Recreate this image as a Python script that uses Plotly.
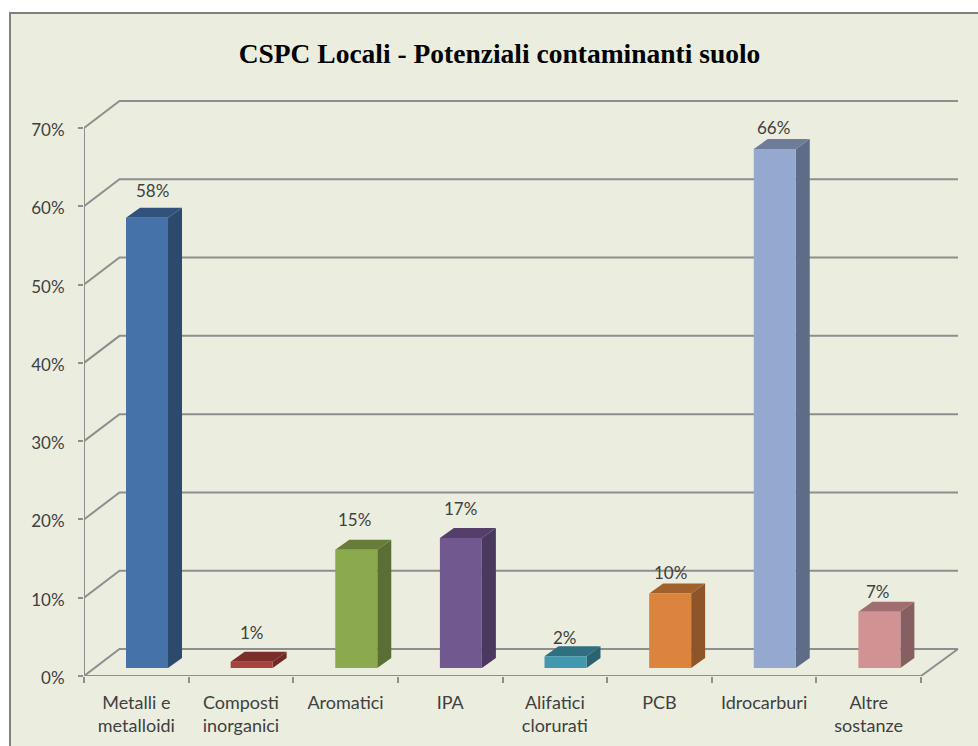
import plotly.graph_objects as go

# ---- data ----
categories = ["Metalli e<br>metalloidi", "Composti<br>inorganici", "Aromatici", "IPA",
              "Alifatici<br>clorurati", "PCB", "Idrocarburi", "Altre<br>sostanze"]
values = [57.5, 0.8, 15.1, 16.6, 1.5, 9.5, 66.3, 7.2]
value_labels = ["58%", "1%", "15%", "17%", "2%", "10%", "66%", "7%"]
y_ticks = [0, 10, 20, 30, 40, 50, 60, 70]
y_tick_labels = ["0%", "10%", "20%", "30%", "40%", "50%", "60%", "70%"]
title = "CSPC Locali - Potenziali contaminanti suolo"

# ---- styles ----
front_colors = ["#4573A9", "#A8423F", "#8BA94D", "#71588F", "#4198AF", "#DB843D", "#95A9D0", "#D09292"]
top_colors = ["#30527C", "#7C2E2C", "#667C38", "#533F69", "#2F6F80", "#A0612C", "#6E7C99", "#A06E6E"]
side_colors = ["#2C4A6E", "#6F2A28", "#5B6E33", "#49395E", "#2A6272", "#8E5628", "#5F6C87", "#866060"]
label_shift_x = [5, 0, -2, 0, -1, 0, -1, -1]
label_shift_y = [27, 29, 30, 30, 19, 21, 21, 20]
GRID = "#8E8E8E"
TEXT = "#404040"
BG = "#EBEEDF"

PX_X = 104.625   # pixels per category
PX_Y = 7.829     # pixels per percent
WALL_DX, WALL_DY = 35.5 / PX_X, 27 / PX_Y
BAR_DX, BAR_BASE = 10.7 / PX_X, 8 / PX_Y
HALF_W = 21 / PX_X
SIDE_DX, SIDE_DY = 14 / PX_X, 10 / PX_Y
X_MAX = 880 / PX_X
Y_MAX = 586 / PX_Y
N = len(categories)

fig = go.Figure()

# grid: back wall + left wall for every tick
X_END = 874 / PX_X
gx, gy = [], []
for t in y_ticks:
    gx += [0, WALL_DX, X_END, None]
    gy += [t, t + WALL_DY, t + WALL_DY, None]
# front axes and the right edge of the floor
gx += [0, 0, None, 0, N, X_END, None]
gy += [0, 70, None, 0, 0, WALL_DY, None]
fig.add_trace(go.Scatter(x=gx, y=gy, mode="lines", line=dict(color=GRID, width=2),
                         hoverinfo="skip", showlegend=False))


def face(xs, ys, color):
    fig.add_trace(go.Scatter(x=xs, y=ys, mode="lines", fill="toself", fillcolor=color,
                             line=dict(width=0, color=color), hoverinfo="skip", showlegend=False))


annotations = []
for i, v in enumerate(values):
    x0 = i + 0.5 + BAR_DX - HALF_W
    x1 = i + 0.5 + BAR_DX + HALF_W
    y0 = BAR_BASE
    y1 = BAR_BASE + v
    face([x1, x1 + SIDE_DX, x1 + SIDE_DX, x1, x1], [y0, y0 + SIDE_DY, y1 + SIDE_DY, y1, y0], side_colors[i])
    face([x0, x1, x1 + SIDE_DX, x0 + SIDE_DX, x0], [y1, y1, y1 + SIDE_DY, y1 + SIDE_DY, y1], top_colors[i])
    face([x0, x1, x1, x0, x0], [y0, y0, y1, y1, y0], front_colors[i])
    annotations.append(dict(x=(x0 + x1) / 2, y=y1, text=value_labels[i], showarrow=False,
                            xanchor="center", yanchor="middle",
                            xshift=label_shift_x[i], yshift=label_shift_y[i],
                            font=dict(family="Lato", size=17, color=TEXT)))

fig.update_layout(
    width=978, height=746, autosize=False,
    margin=dict(l=84, r=14, t=90, b=70),
    paper_bgcolor="white", plot_bgcolor="rgba(0,0,0,0)",
    title=dict(text=title, x=499.5 / 978, xanchor="center", y=1 - 53 / 746, yanchor="middle",
               font=dict(family="Liberation Serif", size=27.5, color="black", weight="bold")),
    xaxis=dict(range=[0, X_MAX], showgrid=False, zeroline=False, showline=False, fixedrange=True,
               automargin=False,
               tickmode="array", tickvals=[i + 0.5 for i in range(N)], ticktext=categories,
               ticks="outside", ticklen=6, tickcolor="rgba(0,0,0,0)", ticklabelstandoff=4,
               tickfont=dict(family="Lato", size=18, color=TEXT),
               minor=dict(tickmode="array", tickvals=list(range(N + 1)), ticks="outside",
                          ticklen=6, tickwidth=2, tickcolor=GRID, showgrid=False)),
    yaxis=dict(range=[0, Y_MAX], showgrid=False, zeroline=False, showline=False, fixedrange=True,
               automargin=False,
               tickmode="array", tickvals=y_ticks, ticktext=y_tick_labels,
               ticks="outside", ticklen=5, tickwidth=2, tickcolor=GRID, ticklabelstandoff=10,
               ticklabelshift=2,
               tickfont=dict(family="Lato", size=17, color=TEXT)),
    annotations=annotations,
    shapes=[dict(type="rect", xref="paper", yref="paper", layer="below",
                 x0=(10 - 84) / 880, x1=(1010 - 84) / 880,
                 y0=(676 - 790) / 586, y1=(676 - 13) / 586,
                 fillcolor=BG, line=dict(color="#808080", width=2))],
)

fig.write_html("out.html", config=dict(displayModeBar=False),
               post_script="document.body.style.margin='0';document.body.style.overflow='hidden';")
